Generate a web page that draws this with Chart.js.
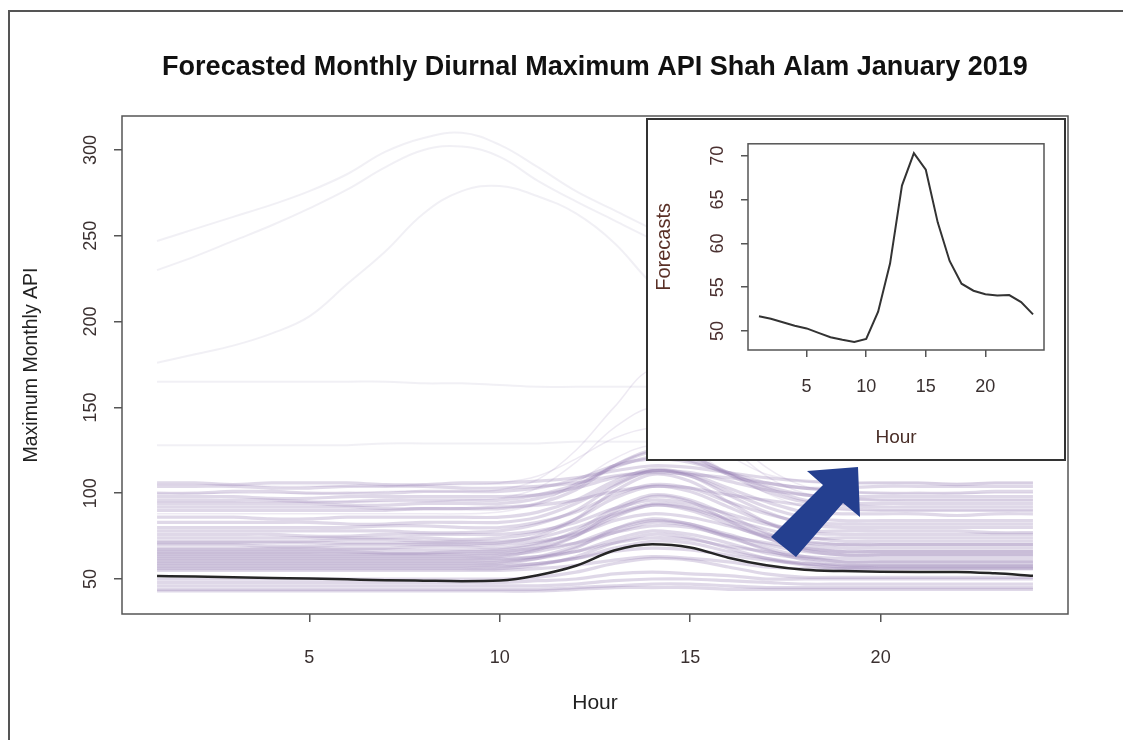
<!DOCTYPE html>
<html>
<head>
<meta charset="utf-8">
<script src="https://cdn.jsdelivr.net/npm/chart.js@4.4.1/dist/chart.umd.min.js"></script>
<style>
  body { margin: 0; background: #fff; }
  #wrap { position: relative; width: 1123px; height: 740px; overflow: hidden; }
  canvas { display: block; }
  #frame { position: absolute; left: 8px; top: 10px; right: -4px; bottom: -4px;
           border-top: 2px solid #555; border-left: 2px solid #555; pointer-events: none; }
  #insetBox { position: absolute; left: 646px; top: 118px; width: 416px; height: 339px;
              border: 2px solid #333; background: #fff; }
  #arrow { position: absolute; left: 0; top: 0; pointer-events: none; }
</style>
</head>
<body>
<div id="wrap">
  <canvas id="main" width="1123" height="740"></canvas>
  <div id="frame"></div>
  <div id="insetBox"><canvas id="inset" width="416" height="339"></canvas></div>
  <svg id="arrow" width="1123" height="740">
    <polygon points="771,537 823,485 807,471 858,467 860,517 843,503 796,557" fill="#243f8f" />
  </svg>
</div>
<script>
const hours = [1,2,3,4,5,6,7,8,9,10,11,12,13,14,15,16,17,18,19,20,21,22,23,24];

// forecast (dark line, also the inset)
const forecast = [51.7,51.4,51.0,50.6,50.3,49.8,49.3,49.0,48.75,49.1,52.2,57.7,66.6,70.3,68.4,62.4,58.0,55.4,54.6,54.2,54.05,54.1,53.3,51.9];

// faint high curves
const highCurves = [
  [247,254,261,268,276,286,299,307,310,303,290,276,265,254,244,236,229,223,218,214,211,209,207,205],
  [230,238,247,256,266,277,290,300,302,296,282,270,259,248,238,230,224,219,214,210,207,204,202,200],
  [176,181,186,193,203,222,241,263,276,279,273,263,246,222,205,188,175,165,158,152,148,145,143,142],
  [165,165,165,165,165,165,165,164,164,163,162,162,162,162,162,162,162,162,162,162,162,162,162,162],
  [128,128,128,128,128,128,129,129,129,129,129,130,130,130,130,130,130,130,130,130,130,130,130,130]
];

// curves rising above the band in the afternoon
const risingCurves = [
  [100,100,100,100,100,100,101,101,101,102,108,125,150,172,160,135,115,104,101,100,100,100,100,100],
  [95,95,95,95,95,95,95,95,96,97,103,118,138,150,145,128,110,100,97,96,96,96,96,96],
  [105,105,105,104,104,104,104,105,105,106,110,120,132,138,134,122,111,107,106,106,106,106,106,106],
  [88,88,88,88,88,88,88,88,88,89,94,106,120,128,124,112,100,92,90,90,90,90,90,90]
];

// main band of monthly curves
const bandCurves = [
  [106,106,105,106,106,106,105,105,106,106,107,109,113,116,115,112,109,107,106,106,106,105,106,106],
  [104,104,104,103,103,104,104,104,103,103,104,106,110,112,111,109,106,103,101,100,100,100,101,101],
  [100,100,101,101,100,100,100,101,101,101,103,108,116,120,118,112,106,103,103,104,104,104,104,104],
  [98,98,98,97,97,98,98,98,98,98,99,103,109,113,112,107,102,99,97,96,96,96,96,96],
  [96,96,96,96,95,95,96,96,96,96,99,105,115,121,119,111,104,99,98,98,98,98,98,98],
  [94,94,94,94,94,93,93,94,94,94,97,104,116,124,121,112,103,96,93,92,92,92,92,92],
  [92,92,92,92,92,92,91,91,91,92,93,96,101,104,103,99,96,93,91,90,90,90,90,90],
  [90,90,90,90,90,90,90,91,91,91,94,102,116,125,122,111,101,95,94,94,94,94,94,94],
  [86,86,86,85,85,86,86,86,86,86,89,96,107,114,111,103,95,89,88,88,88,87,88,88],
  [83,83,83,83,83,82,82,83,83,83,86,94,105,113,110,101,92,86,84,84,84,84,84,84],
  [80,80,80,80,80,80,81,81,80,80,83,89,99,105,103,95,88,83,82,82,82,82,82,82],
  [78,78,78,78,78,78,78,77,77,78,82,90,104,113,110,99,89,82,80,80,80,80,80,80],
  [76,76,76,76,75,75,76,76,76,76,78,83,91,96,94,88,82,78,78,78,78,78,77,77],
  [74,74,74,74,74,74,74,74,73,74,77,85,97,104,101,92,83,77,76,76,76,76,76,76],
  [72,72,72,72,72,73,73,72,72,72,74,80,88,94,92,85,79,74,74,74,74,74,74,74],
  [71,71,71,71,71,71,71,71,71,71,75,85,101,111,107,95,83,75,72,72,72,72,72,72],
  [70,70,70,69,69,70,70,70,70,70,72,76,84,88,86,81,75,72,70,70,70,70,70,70],
  [68,68,68,68,68,68,68,69,69,68,71,77,87,93,91,84,76,71,70,70,70,70,70,70],
  [67,67,67,67,67,67,67,67,67,67,70,78,91,99,96,87,77,70,68,68,68,68,68,68],
  [66,66,66,66,66,66,65,65,66,66,68,71,77,81,80,75,71,68,66,66,66,66,66,66],
  [65,65,65,65,65,65,65,65,65,65,68,75,86,93,90,82,74,68,66,66,66,66,66,66],
  [64,64,64,64,64,64,64,64,64,64,66,71,79,84,82,76,70,66,64,64,64,64,64,64],
  [63,63,63,63,63,63,63,63,63,63,67,75,89,98,95,84,74,67,64,64,64,64,64,64],
  [62,62,62,62,62,62,62,62,62,62,63,66,71,74,73,69,66,63,62,62,62,62,62,62],
  [61,61,61,61,61,61,61,61,61,61,63,69,77,83,81,74,68,63,60,60,60,60,60,60],
  [60,60,60,60,60,60,60,60,60,60,62,66,73,78,76,71,65,62,60,60,60,60,60,60],
  [59,59,59,59,59,59,59,59,59,59,62,68,79,85,82,75,67,61,58,58,58,58,58,58],
  [58,58,58,58,58,58,58,58,58,58,59,62,66,68,67,64,61,59,58,58,58,58,58,58],
  [57,57,57,57,57,57,57,57,57,57,59,62,68,72,71,66,62,59,57,57,57,57,57,57],
  [56,56,56,56,56,56,56,56,56,56,58,63,71,76,74,68,62,58,56,56,56,56,56,56],
  [55,55,55,55,55,55,55,55,55,55,56,58,61,63,62,60,57,56,56,56,56,56,56,56],
  [50,50,50,50,50,50,50,50,50,50,51,54,59,62,61,57,53,51,51,51,51,51,51,51],
  [48,48,48,48,48,48,48,48,48,48,49,50,53,54,53,52,50,50,50,50,50,50,50,50],
  [46,46,46,46,46,46,46,46,46,46,46,47,49,50,50,49,48,47,47,47,47,47,47,47],
  [44,44,44,44,44,44,44,44,44,44,44,45,46,47,47,46,45,45,45,45,45,45,45,45],
  [43,43,43,43,43,43,43,43,43,43,43,44,45,45,45,44,44,44,44,44,44,44,44,44]
];

const mainYTicks = [50, 100, 150, 200, 250, 300];
const mainXTicks = [5, 10, 15, 20];
const insetYTicks = [50, 55, 60, 65, 70];
const insetXTicks = [5, 10, 15, 20];

const FONT = "'Liberation Sans', Arial, Helvetica, sans-serif";
const toPoints = vals => vals.map((v, i) => ({ x: hours[i], y: v }));

const plotBox = {
  id: 'plotBox',
  afterDraw(chart, args, opts) {
    const { ctx, chartArea: a } = chart;
    ctx.save();
    ctx.strokeStyle = opts.color;
    ctx.lineWidth = opts.width;
    ctx.strokeRect(a.left, a.top, a.right - a.left, a.bottom - a.top);
    ctx.restore();
  }
};

// title centred over the plot region, like R's main title
const plotTitle = {
  id: 'plotTitle',
  afterDraw(chart, args, opts) {
    if (!opts.text) return;
    const { ctx, chartArea: a } = chart;
    ctx.save();
    ctx.fillStyle = opts.color;
    ctx.font = opts.font;
    ctx.textAlign = 'center';
    ctx.textBaseline = 'middle';
    ctx.fillText(opts.text, (a.left + a.right) / 2, opts.y);
    ctx.restore();
  }
};

const lineSet = (vals, color, width, tension = 0) => ({
  data: toPoints(vals),
  borderColor: color,
  borderWidth: width,
  pointRadius: 0,
  fill: false,
  tension: tension
});

const mainSets = [
  Object.assign(lineSet(forecast, '#262626', 2.5), { cubicInterpolationMode: 'monotone' }),
  ...bandCurves.map(c => lineSet(c, 'rgba(150,125,180,0.30)', 3.2, 0.3)),
  ...risingCurves.map(c => lineSet(c, 'rgba(150,125,180,0.16)', 1.5, 0.35)),
  ...highCurves.map(c => lineSet(c, 'rgba(165,160,195,0.16)', 2, 0.4))
];

const fixedTicks = list => scale => { scale.ticks = list.map(v => ({ value: v })); };

new Chart(document.getElementById('main'), {
  type: 'line',
  data: { datasets: mainSets },
  plugins: [plotBox, plotTitle],
  options: {
    responsive: false,
    animation: false,
    devicePixelRatio: 1,
    layout: { padding: { left: 0, right: 55, top: 116, bottom: 0 } },
    plugins: {
      legend: { display: false },
      tooltip: { enabled: false },
      plotBox: { color: '#555', width: 1.5 },
      plotTitle: {
        text: 'Forecasted Monthly Diurnal Maximum API Shah Alam January 2019',
        color: '#111',
        font: "bold 27px " + FONT,
        y: 68
      }
    },
    scales: {
      x: {
        type: 'linear',
        min: 0.08,
        max: 24.92,
        afterBuildTicks: fixedTicks(mainXTicks),
        afterFit: s => { s.height = 126; },
        grid: { drawOnChartArea: false, drawTicks: true, tickLength: 8, color: '#555', lineWidth: 1.5 },
        border: { display: false },
        ticks: { color: '#3a3030', font: { family: FONT, size: 18 }, padding: 25, maxRotation: 0, autoSkip: false },
        title: { display: true, text: 'Hour', color: '#222', font: { family: FONT, size: 21 }, padding: { bottom: 24 } }
      },
      y: {
        type: 'linear',
        min: 29.6,
        max: 319.8,
        afterBuildTicks: fixedTicks(mainYTicks),
        afterFit: s => { s.width = 122; },
        grid: { drawOnChartArea: false, drawTicks: true, tickLength: 8, color: '#555', lineWidth: 1.5 },
        border: { display: false },
        ticks: { color: '#3a3030', font: { family: FONT, size: 18 }, padding: 8, minRotation: 90, maxRotation: 90, crossAlign: 'center', autoSkip: false },
        title: { display: true, text: 'Maximum Monthly API', color: '#222', font: { family: FONT, size: 19.5 }, padding: { top: 20 } }
      }
    }
  }
});

new Chart(document.getElementById('inset'), {
  type: 'line',
  data: { datasets: [lineSet(forecast, '#333', 2)] },
  plugins: [plotBox],
  options: {
    responsive: false,
    animation: false,
    devicePixelRatio: 1,
    layout: { padding: { left: 0, right: 20, top: 23, bottom: 0 } },
    plugins: {
      legend: { display: false },
      tooltip: { enabled: false },
      plotBox: { color: '#555', width: 1.5 }
    },
    scales: {
      x: {
        type: 'linear',
        min: 0.08,
        max: 24.92,
        afterBuildTicks: fixedTicks(insetXTicks),
        afterFit: s => { s.height = 109; },
        grid: { drawOnChartArea: false, drawTicks: true, tickLength: 7, color: '#555', lineWidth: 1.5 },
        border: { display: false },
        ticks: { color: '#3a3030', font: { family: FONT, size: 18 }, padding: 19, maxRotation: 0, autoSkip: false },
        title: { display: true, text: 'Hour', color: '#4a2e28', font: { family: FONT, size: 19 }, padding: { bottom: 10 } }
      },
      y: {
        type: 'linear',
        min: 47.84,
        max: 71.36,
        afterBuildTicks: fixedTicks(insetYTicks),
        afterFit: s => { s.width = 100; },
        grid: { drawOnChartArea: false, drawTicks: true, tickLength: 7, color: '#555', lineWidth: 1.5 },
        border: { display: false },
        ticks: { color: '#4a3030', font: { family: FONT, size: 18 }, padding: 13, minRotation: 90, maxRotation: 90, crossAlign: 'center', autoSkip: false },
        title: { display: true, text: 'Forecasts', color: '#5a3026', font: { family: FONT, size: 20 }, padding: { top: 4 } }
      }
    }
  }
});
</script>
</body>
</html>
